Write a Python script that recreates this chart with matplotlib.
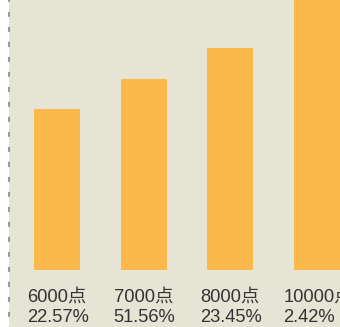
import matplotlib
matplotlib.use("Agg")
import matplotlib.pyplot as plt
from matplotlib.lines import Line2D
from matplotlib.patches import Rectangle

# Data
categories = ["6000点", "7000点", "8000点", "10000点"]
points = [6000, 7000, 8000, 10000]
shares = ["22.57%", "51.56%", "23.45%", "2.42%"]

BASE = 773
BG = "#E6E4D4"
BAR = "#FBB84B"

fig = plt.figure(figsize=(3.4, 3.27), dpi=100)
fig.patch.set_facecolor(BG)

# white strip and dashed divider at the left
fig.add_artist(Rectangle((0, 0), 8.5 / 340, 1, transform=fig.transFigure,
                         facecolor="white", edgecolor="none", zorder=0))
fig.add_artist(Line2D([9 / 340, 9 / 340], [1.0, 0.0], transform=fig.transFigure,
                      color="#9a9a9a", linewidth=1.5,
                      linestyle=(1.5, (2.4, 4.8)), zorder=3))

ax = fig.add_axes([9.5 / 340, 0, 1 - 9.5 / 340, 1])
ax.set_facecolor(BG)
xs = list(range(len(points)))
ax.bar(xs, [p - BASE for p in points], bottom=BASE, width=0.53,
       color=BAR, edgecolor="none")

ax.set_xlim(-0.548, 3.265)
ax.set_ylim(-1097, 9566)
for s in ax.spines.values():
    s.set_visible(False)
ax.set_xticks([])
ax.set_yticks([])

fam = ["Liberation Sans", "Noto Sans CJK SC", "DejaVu Sans"]
for x, c, s in zip(xs, categories, shares):
    ax.annotate(f"{c}\n{s}", xy=(x, BASE), xytext=(1, -19),
                textcoords="offset pixels", ha="center", va="top",
                multialignment="left", fontsize=13.2, color="#333333",
                family=fam, linespacing=1.22)

fig.savefig("out.png", dpi=100, facecolor=BG)
